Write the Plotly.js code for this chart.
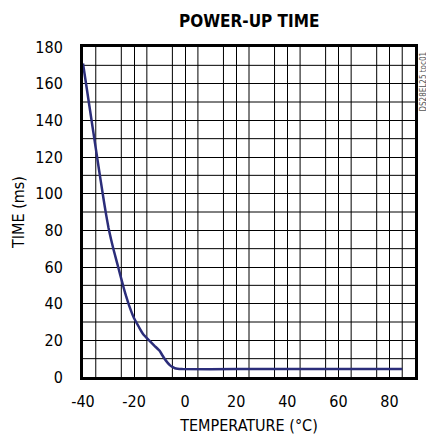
<!DOCTYPE html>
<html><head><meta charset="utf-8">
<script src="https://cdn.plot.ly/plotly-3.0.1.min.js"></script>
<style>html,body{margin:0;padding:0;background:#fff}</style>
</head><body><div id="chart" style="width:426px;height:440px"></div>
<script>
const temperature = [-40,-36,-34,-32,-31,-30,-29,-28,-27,-26,-25,-24,-23,-22,-21,-20,-18,-16.5,-14,-12,-10,-9,-8,-7,-6,-5,-4,-3,-1,20,40,60,85];
const timeMs =      [171,134,115.5,97.5,89,81.3,75,69.3,64,58.8,53.5,48.3,43.5,39.2,35.4,32,27,23.5,19.8,17,14.3,12,9.8,8,6.5,5.5,4.8,4.5,4.3,4.3,4.3,4.3,4.3];
const xTicks = [-40,-20,0,20,40,60,80];
const yTicks = [0,20,40,60,80,100,120,140,160,180];
const font = "'DejaVu Sans Condensed', 'Liberation Sans Narrow', sans-serif";

Plotly.newPlot('chart', [{
  x: temperature, y: timeMs, type: 'scatter', mode: 'lines',
  line: {color: '#2b2d7a', width: 2.5, shape: 'spline', smoothing: 0.4},
  hoverinfo: 'none'
}], {
  width: 426, height: 440,
  margin: {l: 83, r: 11, t: 47, b: 63},
  paper_bgcolor: '#fff', plot_bgcolor: '#fff',
  showlegend: false,
  title: {text: '<b>POWER-UP TIME</b>', font: {family: font, size: 17, color: '#000'}, x: 0.585, xanchor: 'center', y: 0.953, yanchor: 'middle'},
  xaxis: {
    range: [-40, 90], showgrid: true, gridcolor: '#000', gridwidth: 1,
    tickmode: 'array', tickvals: xTicks, ticktext: xTicks.map(String),
    showline: true, linecolor: '#000', linewidth: 3, mirror: true, zeroline: false,
    ticks: 'outside', ticklen: 8, tickcolor: 'rgba(0,0,0,0)',
    tickfont: {family: font, size: 16, color: '#000'},
    title: {text: 'TEMPERATURE (°C)', font: {family: font, size: 16, color: '#000'}, standoff: 10}
  },
  yaxis: {
    range: [0, 180], showgrid: true, gridcolor: '#000', gridwidth: 1,
    tickmode: 'array', tickvals: yTicks, ticktext: yTicks.map(String),
    showline: true, linecolor: '#000', linewidth: 3, mirror: true, zeroline: false,
    ticks: 'outside', ticklen: 14, tickcolor: 'rgba(0,0,0,0)',
    tickfont: {family: font, size: 16, color: '#000'},
    title: {text: 'TIME (ms)', font: {family: font, size: 16, color: '#000'}, standoff: 7}
  },
  shapes: [
    ...[-35,-25,-15,-5,5,15,25,35,45,55,65,75,85].map(v => ({type:'line', xref:'x', yref:'paper', x0:v, x1:v, y0:0, y1:1, line:{color:'#000', width:1}, layer:'below'})),
    ...[10,30,50,70,90,110,130,150,170].map(v => ({type:'line', xref:'paper', yref:'y', x0:0, x1:1, y0:v, y1:v, line:{color:'#000', width:1}, layer:'below'}))
  ],
  annotations: [{
    text: 'DS28EL25 toc01', xref: 'paper', yref: 'paper', x: 1.0, y: 1.0, xanchor: 'left', yanchor: 'top',
    xshift: 1, yshift: -3, textangle: -90, showarrow: false, font: {family: font, size: 8, color: '#555'}
  }]
}, {staticPlot: true});
</script></body></html>
